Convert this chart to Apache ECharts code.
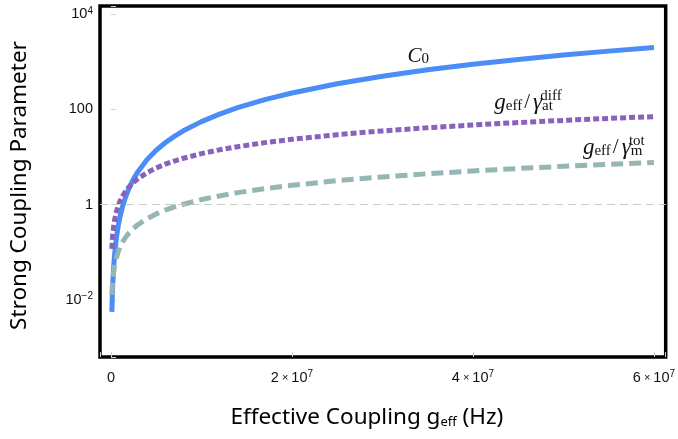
<!DOCTYPE html>
<html><head><meta charset="utf-8">
<script src="https://cdn.jsdelivr.net/npm/echarts@6/dist/echarts.min.js"></script>
<style>html,body{margin:0;padding:0;background:#fff}#c{width:678px;height:439px}</style>
</head><body><div id="c"></div>
<script>
// Effective coupling g_eff (Hz)
const gEff = [1e5, 1.5e5, 2e5, 3e5, 4e5, 6e5, 8e5, 1e6, 1.3e6, 1.6e6, 2e6, 2.5e6, 3e6, 4e6, 5e6, 6e6, 7e6, 8e6,
  1e7, 1.2e7, 1.4e7, 1.7e7, 2e7, 2.5e7, 3e7, 3.5e7, 4e7, 4.5e7, 5e7, 5.5e7, 6e7];
// C_0 (cooperativity)
const cooperativity = [0.0056, 0.0125, 0.022, 0.05, 0.089, 0.2, 0.356, 0.556, 0.94, 1.42, 2.22, 3.48, 5.0, 8.9,
  13.9, 20, 27.2, 35.6, 55.6, 80, 109, 161, 222, 348, 500, 681, 890, 1126, 1390, 1682, 2000];
// g_eff / gamma_at^diff
const ratioAtom = [0.118, 0.177, 0.236, 0.354, 0.472, 0.708, 0.944, 1.18, 1.53, 1.89, 2.36, 2.95, 3.54, 4.72,
  5.9, 7.08, 8.26, 9.44, 11.8, 14.2, 16.5, 20.1, 23.6, 29.5, 35.4, 41.3, 47.2, 53.1, 59, 64.9, 70.8];
// g_eff / gamma_m^tot
const ratioMech = [0.0128, 0.0192, 0.0255, 0.0383, 0.0511, 0.0766, 0.102, 0.128, 0.166, 0.204, 0.255, 0.319,
  0.383, 0.511, 0.639, 0.766, 0.894, 1.02, 1.28, 1.53, 1.79, 2.17, 2.55, 3.19, 3.83, 4.47, 5.11, 5.75, 6.39, 7.02, 7.66];
// curve label anchors [g_eff, value]
const labelC0 = [3.27e7, 1330];
const labelAtom = [4.23e7, 138];
const labelMech = [5.21e7, 15.6];
const strongLine = 1;

const pairs = arr => gEff.map((g, i) => [g, arr[i]]);
const SANS = 'Liberation Sans';
const SERIF = 'Liberation Serif';
const tickRich = {
  b: {fontFamily: SANS, fontSize: 14.5, color: '#111', lineHeight: 17},
  x: {fontFamily: SANS, fontSize: 11, color: '#111', lineHeight: 17, padding: [0, 3, 0, 3]},
  sup: {fontFamily: SANS, fontSize: 10, color: '#111', lineHeight: 9, verticalAlign: 'top'}
};
const labRich = {
  m: {fontFamily: SERIF, fontStyle: 'italic', fontSize: 23, color: '#111', lineHeight: 22},
  c: {fontFamily: SERIF, fontStyle: 'italic', fontSize: 21, color: '#111', lineHeight: 22},
  n: {fontFamily: SERIF, fontSize: 21, color: '#111', lineHeight: 22, padding: [0, 3, 0, 2]},
  sb: {fontFamily: SERIF, fontSize: 15, color: '#111', lineHeight: 12, verticalAlign: 'bottom'},
  sp: {fontFamily: SERIF, fontSize: 15, color: '#111', lineHeight: 16}
};
function mark(coord, main, sup, supDx) {
  const data = [{coord: coord, label: {formatter: main}}];
  if (sup) data.push({coord: coord, label: {formatter: '{sp|' + sup + '}', offset: [supDx, -7]}});
  return {
    symbol: 'circle', symbolSize: 1, silent: true,
    itemStyle: {color: 'rgba(0,0,0,0)'},
    label: {show: true, position: 'right', distance: 0, align: 'left', rich: labRich},
    data: data
  };
}
const chart = echarts.init(document.getElementById('c'), null, {renderer: 'canvas'});
chart.setOption({
  animation: false,
  backgroundColor: '#fff',
  grid: {left: 99, top: 6, right: 11, bottom: 82, show: true, borderColor: '#000', borderWidth: 3.5, backgroundColor: 'rgba(0,0,0,0)'},
  xAxis: {
    type: 'value', min: -1.21e6, max: 6.13e7, splitNumber: 3,
    axisLine: {show: false}, splitLine: {show: false},
    axisTick: {show: true, inside: true, length: 5, lineStyle: {color: '#d0d0d0'}},
    axisLabel: {
      margin: 12, rich: tickRich,
      formatter: v => {
        if (Math.abs(v) < 1) return '{b|0}';
        const k = Math.round(v / 1e7);
        if (Math.abs(v - k * 1e7) > 1) return '';
        return '{b|' + k + '}{x|×}{b|10}{sup|7}';
      }
    },
    name: 'Effective Coupling g{s|eff} (Hz)', nameLocation: 'middle', nameGap: 49,
    nameTextStyle: {fontFamily: 'Noto Sans', fontSize: 22.5, color: '#000', padding: [0, 32, 0, 0],
      rich: {s: {fontFamily: 'Noto Sans', fontSize: 13, color: '#000', lineHeight: 12, verticalAlign: 'bottom'}}}
  },
  yAxis: {
    type: 'log', logBase: 100, min: 6.3e-4, max: 14930,
    axisLine: {show: false}, splitLine: {show: false},
    axisTick: {show: true, inside: true, length: 5, lineStyle: {color: '#d0d0d0'}},
    axisLabel: {
      margin: 7, rich: tickRich,
      formatter: v => {
        const e = Math.log10(v);
        const r = Math.round(e);
        if (Math.abs(e - r) > 1e-6) return '';
        if (r === 0) return '{b|1}';
        if (r === 2) return '{b|100}';
        return '{b|10}{sup|' + (r < 0 ? '−' + (-r) : r) + '}';
      }
    },
    name: 'Strong Coupling Parameter', nameLocation: 'middle', nameGap: 69,
    nameTextStyle: {fontFamily: 'Noto Sans', fontSize: 22.5, color: '#000', padding: [0, 8, 0, 0]}
  },
  series: [
    {
      type: 'line', data: pairs(cooperativity), showSymbol: false, symbol: 'none', z: 2,
      lineStyle: {color: '#4b8df6', width: 5},
      markLine: {silent: true, symbol: 'none', label: {show: false},
        lineStyle: {type: [8, 5], color: '#cacaca', width: 1}, data: [{yAxis: strongLine}]},
      markPoint: mark(labelC0, '{c|C}{sb|0}')
    },
    {
      type: 'line', data: pairs(ratioAtom), showSymbol: false, symbol: 'none', z: 3,
      lineStyle: {color: '#8a61bd', width: 5, type: [6, 3]},
      markPoint: mark(labelAtom, '{m|g}{sb|eff}{n|/}{m|γ}{sb|at}', 'diff', 46)
    },
    {
      type: 'line', data: pairs(ratioMech), showSymbol: false, symbol: 'none', z: 4,
      lineStyle: {color: '#95b6b4', width: 5, type: [12, 6]},
      markPoint: mark(labelMech, '{m|g}{sb|eff}{n|/}{m|γ}{sb|m}', 'tot', 46)
    }
  ]
});
</script></body></html>
